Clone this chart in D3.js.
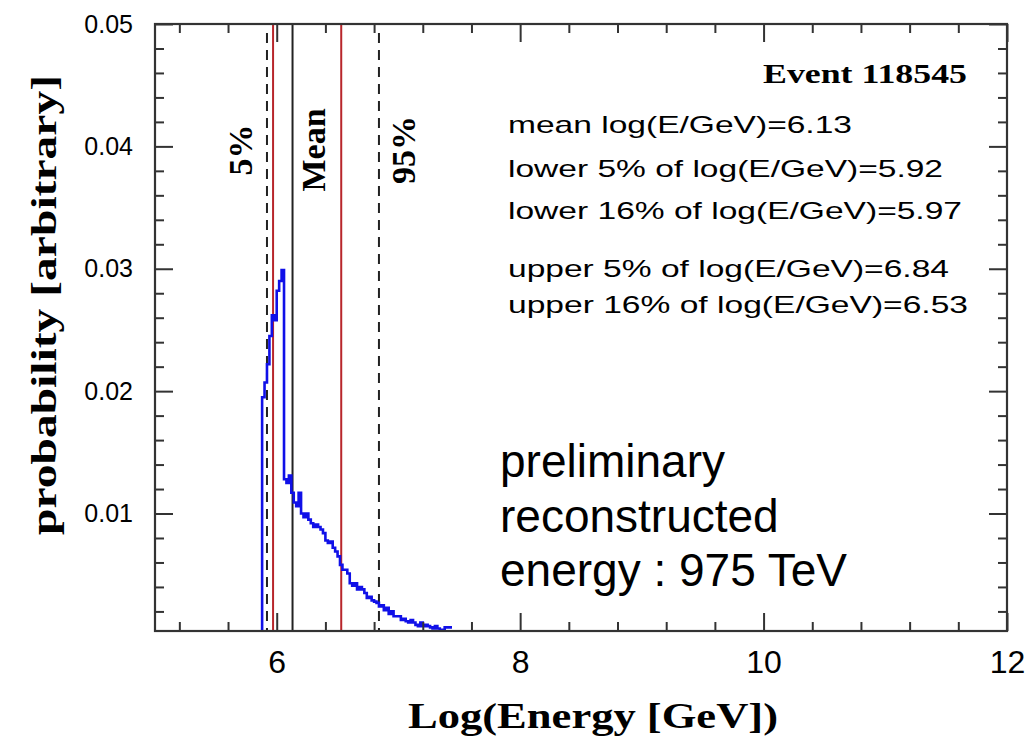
<!DOCTYPE html>
<html lang="en">
    <head>
        <meta charset="utf-8">
        <title>Event 118545 energy</title>
        <script src="https://d3js.org/d3.v7.min.js"></script>
        <style>
            body { margin: 0; background: #fff; }
            .tick line { stroke: #333; stroke-width: 2; }
            .tick text { font-family: "Liberation Sans", Arial, sans-serif; fill: #000; }
        </style>
    </head>
    <body>
        <script type="text/javascript">

            // histogram of log(E/GeV), lower bin edges and probability per bin
            var binEdges = [5.88, 5.90, 5.92, 5.94, 5.96, 5.98, 6.00, 6.02, 6.04, 6.06,
                            6.08, 6.10, 6.12, 6.14, 6.16, 6.18, 6.20, 6.22, 6.24, 6.26,
                            6.28, 6.30, 6.32, 6.34, 6.36, 6.38, 6.40, 6.42, 6.44, 6.46,
                            6.48, 6.50, 6.52, 6.54, 6.56, 6.58, 6.60, 6.62, 6.64, 6.66,
                            6.68, 6.70, 6.72, 6.74, 6.76, 6.78, 6.80, 6.82, 6.84, 6.86,
                            6.88, 6.90, 6.92, 6.94, 6.96, 6.98, 7.00, 7.02, 7.04, 7.06,
                            7.08, 7.10, 7.12, 7.14, 7.16, 7.18, 7.20, 7.22, 7.24, 7.26,
                            7.28, 7.30, 7.32, 7.34, 7.36, 7.38, 7.40, 7.42, 7.44];
            var probability = [0.0195, 0.0207, 0.0222, 0.0245, 0.0262, 0.0258, 0.0282, 0.0290, 0.0299, 0.0128,
                               0.0125, 0.0131, 0.0117, 0.0109, 0.0106, 0.0117, 0.0100, 0.0097, 0.0100, 0.0095,
                               0.0092, 0.0089, 0.0091, 0.0089, 0.0087, 0.0084, 0.0078, 0.0076, 0.0077, 0.0072,
                               0.0069, 0.0065, 0.0058, 0.0054, 0.0054, 0.0051, 0.0043, 0.0041, 0.0043, 0.0038,
                               0.0040, 0.0038, 0.0035, 0.0031, 0.0032, 0.0029, 0.0028, 0.0027, 0.0024, 0.0025,
                               0.0021, 0.0023, 0.0018, 0.0020, 0.0016, 0.0016, 0.0016, 0.0013, 0.0014, 0.0012,
                               0.0011, 0.0013, 0.0011, 0.0009, 0.0008, 0.0011, 0.0008, 0.0009, 0.0008, 0.0007,
                               0.0006, 0.0008, 0.0006, 0.0005, 0.0005, 0.0007, 0.0007, 0.0007];

            // marker lines: position, style and label
            var markerValues = [5.92, 5.97, 6.13, 6.53, 6.84];
            var markerKinds = ["dash", "red", "mean", "red", "dash"];
            var markerLabels = [["5%", 5.92 - 0.22], ["Mean", 6.13 + 0.17], ["95%", 6.84 + 0.2]];

            // summary text on the right
            var statLines = ["mean log(E/GeV)=6.13",
                             "lower 5% of log(E/GeV)=5.92",
                             "lower 16% of log(E/GeV)=5.97",
                             "upper 5% of log(E/GeV)=6.84",
                             "upper 16% of log(E/GeV)=6.53"];
            var noteLines = ["preliminary", "reconstructed", "energy : 975 TeV"];

            // tick values
            var xMajor = [6, 8, 10, 12];
            var xMinor = [5.2, 5.6, 6.4, 6.8, 7.2, 7.6, 8.4, 8.8, 9.2, 9.6, 10.4, 10.8, 11.2, 11.6];
            var yMajor = [0.01, 0.02, 0.03, 0.04, 0.05];
            var yMinor = [0.002, 0.004, 0.006, 0.008, 0.012, 0.014, 0.016, 0.018, 0.022, 0.024, 0.026, 0.028,
                          0.032, 0.034, 0.036, 0.038, 0.042, 0.044, 0.046, 0.048];

            var w = 1029;
            var h = 744;
            var plotLeft = 155, plotRight = 1007, plotTop = 24, plotBottom = 631;

            var svg = d3.select("body")
                        .append("svg")
                        .attr("width", w)
                        .attr("height", h);

            var xScale = d3.scaleLinear()
                           .domain([5, 12])
                           .range([plotLeft, plotRight]);

            var yScale = d3.scaleLinear()
                           .domain([0.0004, 0.05])
                           .range([plotBottom, plotTop]);

            svg.append("clipPath")
               .attr("id", "frame")
               .append("rect")
               .attr("x", plotLeft)
               .attr("y", plotTop)
               .attr("width", plotRight - plotLeft)
               .attr("height", plotBottom - plotTop);

            // marker lines
            svg.selectAll(".marker")
               .data(markerValues)
               .enter()
               .append("line")
               .attr("class", "marker")
               .attr("x1", function(d) { return xScale(d); })
               .attr("x2", function(d) { return xScale(d); })
               .attr("y1", function(d, i) { return markerKinds[i] == "dash" ? plotTop + 9 : plotTop; })
               .attr("y2", plotBottom)
               .attr("stroke", function(d, i) { return markerKinds[i] == "red" ? "#b8262b" : "#222"; })
               .attr("stroke-width", 2)
               .attr("stroke-dasharray", function(d, i) { return markerKinds[i] == "dash" ? "10,7" : null; });

            // the histogram as a step line
            var points = [[binEdges[0], 0]];
            for (var i = 0; i < probability.length; i++) {
                points.push([binEdges[i], probability[i]]);
            }
            points.push([binEdges[binEdges.length - 1], probability[probability.length - 1]]);

            var step = d3.line()
                         .x(function(d) { return xScale(d[0]); })
                         .y(function(d) { return yScale(d[1]); })
                         .curve(d3.curveStepAfter);

            svg.append("path")
               .datum(points)
               .attr("d", step)
               .attr("clip-path", "url(#frame)")
               .attr("fill", "none")
               .attr("stroke", "#1010e8")
               .attr("stroke-width", 2.6);

            // axes, ticks on all four sides pointing inwards
            var xAxis = svg.append("g")
               .attr("transform", "translate(0," + plotBottom + ")")
               .call(d3.axisBottom(xScale).tickValues(xMajor).tickSizeInner(-18).tickSizeOuter(0)
                     .tickPadding(19).tickFormat(d3.format("d")));
            xAxis.selectAll("text").style("font-size", "32px");

            svg.append("g")
               .attr("transform", "translate(0," + plotBottom + ")")
               .call(d3.axisBottom(xScale).tickValues(xMinor).tickSizeInner(-9).tickSizeOuter(0).tickFormat(""));

            svg.append("g")
               .attr("transform", "translate(0," + plotTop + ")")
               .call(d3.axisTop(xScale).tickValues(xMajor).tickSizeInner(-18).tickSizeOuter(0).tickFormat(""));

            svg.append("g")
               .attr("transform", "translate(0," + plotTop + ")")
               .call(d3.axisTop(xScale).tickValues(xMinor).tickSizeInner(-9).tickSizeOuter(0).tickFormat(""));

            var yAxis = svg.append("g")
               .attr("transform", "translate(" + plotLeft + ",0)")
               .call(d3.axisLeft(yScale).tickValues(yMajor).tickSizeInner(-18).tickSizeOuter(0)
                     .tickPadding(22).tickFormat(d3.format(".2f")));
            yAxis.selectAll("text").style("font-size", "25px");

            svg.append("g")
               .attr("transform", "translate(" + plotLeft + ",0)")
               .call(d3.axisLeft(yScale).tickValues(yMinor).tickSizeInner(-9).tickSizeOuter(0).tickFormat(""));

            svg.append("g")
               .attr("transform", "translate(" + plotRight + ",0)")
               .call(d3.axisRight(yScale).tickValues(yMajor).tickSizeInner(-18).tickSizeOuter(0).tickFormat(""));

            svg.append("g")
               .attr("transform", "translate(" + plotRight + ",0)")
               .call(d3.axisRight(yScale).tickValues(yMinor).tickSizeInner(-9).tickSizeOuter(0).tickFormat(""));

            svg.selectAll(".domain").remove();

            // the frame
            svg.append("rect")
               .attr("x", plotLeft)
               .attr("y", plotTop)
               .attr("width", plotRight - plotLeft)
               .attr("height", plotBottom - plotTop)
               .attr("fill", "none")
               .attr("stroke", "#333")
               .attr("stroke-width", 2.2);

            // rotated labels next to the marker lines
            svg.selectAll(".mlabel")
               .data(markerLabels)
               .enter()
               .append("text")
               .attr("class", "mlabel")
               .attr("transform", function(d) { return "translate(" + xScale(d[1]) + ",150) rotate(-90)"; })
               .attr("text-anchor", "middle")
               .attr("dy", "0.35em")
               .style("font-family", "'Liberation Serif', 'Times New Roman', serif")
               .style("font-weight", "bold")
               .style("font-size", "34px")
               .text(function(d) { return d[0]; });

            svg.append("text")
               .attr("x", 763)
               .attr("y", 83)
               .attr("textLength", 204)
               .attr("lengthAdjust", "spacingAndGlyphs")
               .style("font-family", "'Liberation Serif', 'Times New Roman', serif")
               .style("font-weight", "bold")
               .style("font-size", "28px")
               .text("Event 118545");

            var statBase = [133, 177, 219, 277, 313];
            var statLength = [344, 435, 454, 441, 460];
            svg.selectAll(".stat")
               .data(statLines)
               .enter()
               .append("text")
               .attr("class", "stat")
               .attr("x", 508)
               .attr("y", function(d, i) { return statBase[i]; })
               .attr("textLength", function(d, i) { return statLength[i]; })
               .attr("lengthAdjust", "spacingAndGlyphs")
               .style("font-family", "'Liberation Sans', Arial, sans-serif")
               .style("font-size", "24px")
               .text(function(d) { return d; });

            svg.selectAll(".note")
               .data(noteLines)
               .enter()
               .append("text")
               .attr("class", "note")
               .attr("x", 500)
               .attr("y", function(d, i) { return 477 + i * 54.5; })
               .style("font-family", "'Liberation Sans', Arial, sans-serif")
               .style("font-size", "46px")
               .text(function(d) { return d; });

            // axis titles
            svg.append("text")
               .attr("x", 408)
               .attr("y", 728)
               .attr("textLength", 370)
               .attr("lengthAdjust", "spacingAndGlyphs")
               .style("font-family", "'Liberation Serif', 'Times New Roman', serif")
               .style("font-weight", "bold")
               .style("font-size", "36px")
               .text("Log(Energy [GeV])");

            svg.append("text")
               .attr("transform", "translate(56,535) rotate(-90)")
               .attr("textLength", 460)
               .attr("lengthAdjust", "spacingAndGlyphs")
               .style("font-family", "'Liberation Serif', 'Times New Roman', serif")
               .style("font-weight", "bold")
               .style("font-size", "36px")
               .text("probability [arbitrary]");
        </script>
    </body>
</html>
